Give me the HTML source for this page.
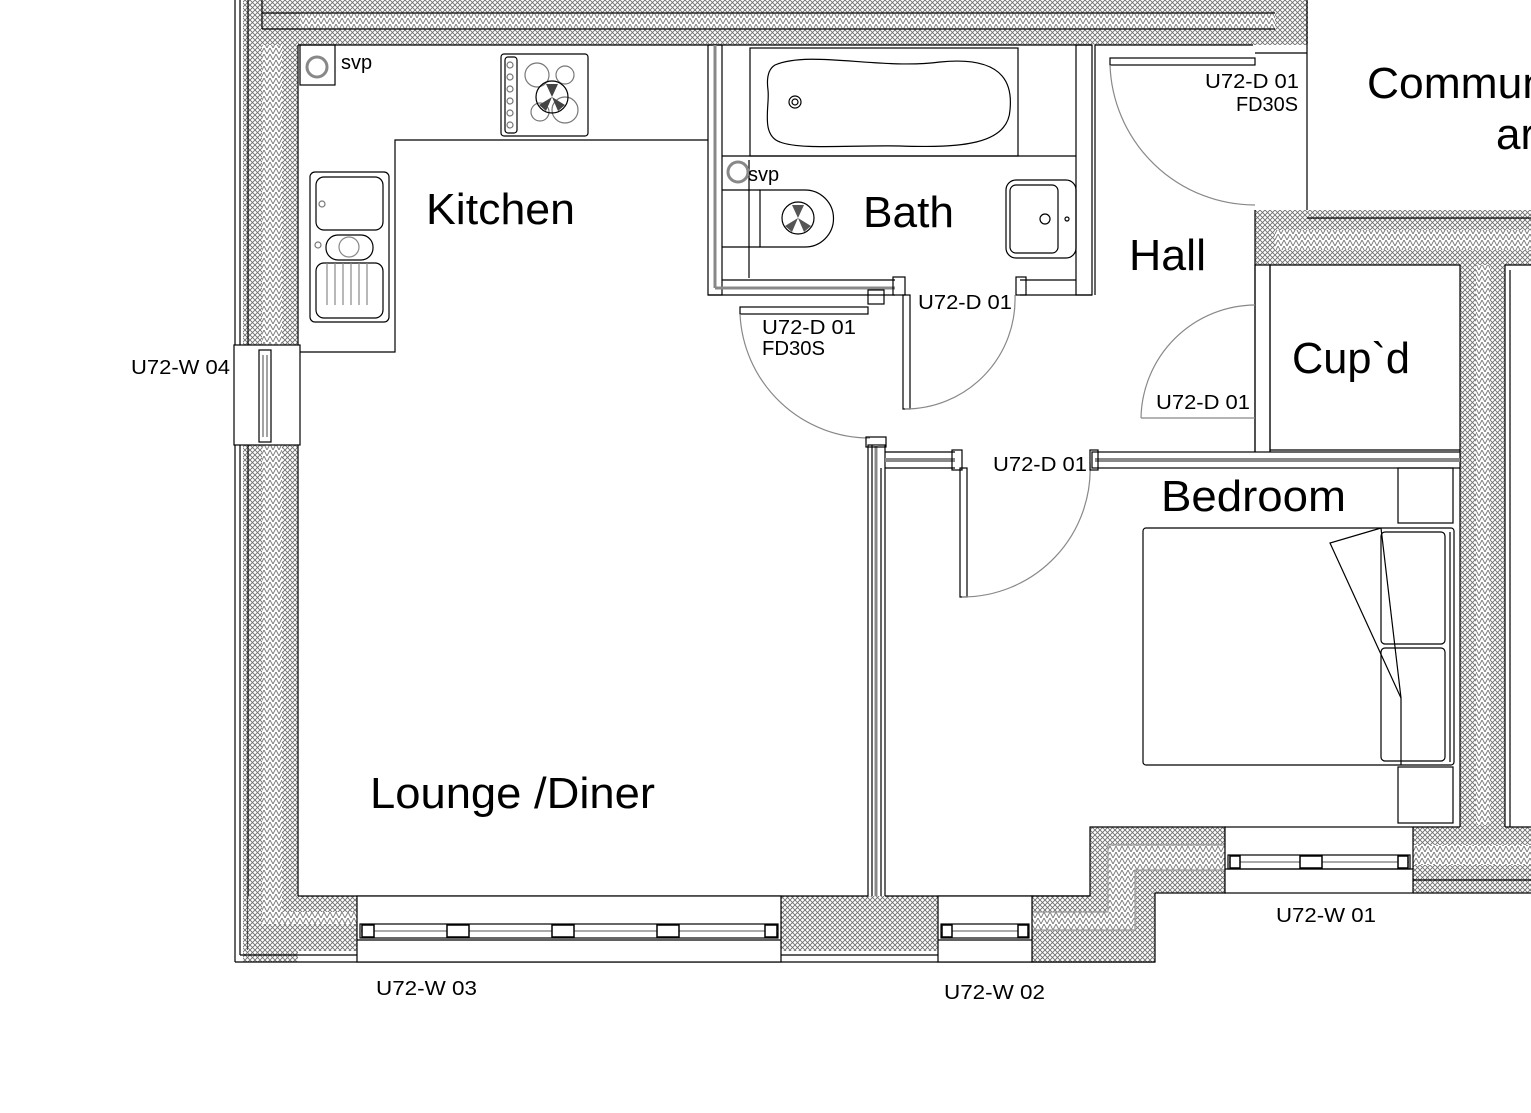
<!DOCTYPE html>
<html><head><meta charset="utf-8"><style>
html,body{margin:0;padding:0;background:#fff;width:1531px;height:1113px;overflow:hidden}
svg{display:block}
text{font-family:"Liberation Sans",sans-serif;fill:#000}
</style></head><body>
<svg width="1531" height="1113" viewBox="0 0 1531 1113" xmlns="http://www.w3.org/2000/svg">
<defs>
<pattern id="h" width="5" height="5" patternUnits="userSpaceOnUse">
<rect width="5" height="5" fill="#fff"/>
<path d="M0 0L5 5M5 0L0 5" stroke="#6f6f6f" stroke-width="0.9"/>
</pattern>
<pattern id="z" width="6" height="6" patternUnits="userSpaceOnUse">
<rect width="6" height="6" fill="#fff"/>
<path d="M0 0L3 6L6 0" stroke="#777" stroke-width="0.9" fill="none"/>
</pattern>
</defs>
<g stroke="#000" stroke-width="1.2" fill="none">
<!-- Left wall -->
<rect x="243" y="0" width="55" height="345" fill="url(#h)" stroke="none"/>
<rect x="243" y="445" width="55" height="517" fill="url(#h)" stroke="none"/>
<rect x="262" y="0" width="20" height="345" fill="url(#z)" stroke="none"/>
<rect x="262" y="445" width="20" height="440" fill="url(#z)" stroke="none"/>
<line x1="235" y1="0" x2="235" y2="345"/><line x1="240" y1="0" x2="240" y2="345"/><line x1="248" y1="0" x2="248" y2="345"/>
<line x1="235" y1="445" x2="235" y2="962"/><line x1="240" y1="445" x2="240" y2="955"/><line x1="248" y1="445" x2="248" y2="950"/>
<line x1="298" y1="45" x2="298" y2="896"/>
<!-- W04 -->
<rect x="234" y="345" width="66" height="100" fill="#fff"/>
<rect x="259" y="350" width="12" height="92" fill="#fff"/>
<line x1="263" y1="355" x2="263" y2="437" stroke="#666"/><line x1="267" y1="355" x2="267" y2="437" stroke="#666"/>
<!-- Top wall -->
<rect x="262" y="0" width="1046" height="45" fill="url(#h)" stroke="none"/>
<rect x="300" y="13" width="975" height="16" fill="url(#z)" stroke="none"/>
<line x1="262" y1="13" x2="1275" y2="13"/><line x1="262" y1="29" x2="1275" y2="29"/>
<line x1="298" y1="45" x2="1092" y2="45"/><line x1="1095" y1="45" x2="1253" y2="45"/>
<line x1="262" y1="0" x2="262" y2="29"/>
<line x1="1307" y1="0" x2="1307" y2="53"/>
<line x1="1307" y1="53" x2="1307" y2="210"/>
<line x1="1255" y1="53" x2="1307" y2="53"/>
<rect x="1110" y="58" width="145" height="7" fill="#fff"/>
<path d="M1110 65 A145 145 0 0 0 1255 205" stroke="#888"/>
<line x1="1095" y1="45" x2="1095" y2="295"/>
<!-- right upper walls -->
<rect x="1255" y="210" width="276" height="55" fill="url(#h)" stroke="none"/>
<rect x="1275" y="230" width="256" height="20" fill="url(#z)" stroke="none"/>
<line x1="1307" y1="218" x2="1531" y2="218"/>
<line x1="1270" y1="265" x2="1460" y2="265"/>
<line x1="1505" y1="265" x2="1531" y2="265"/>
<rect x="1460" y="265" width="45" height="562" fill="url(#h)" stroke="none"/>
<rect x="1476" y="265" width="14" height="560" fill="url(#z)" stroke="none"/>
<line x1="1460" y1="265" x2="1460" y2="827"/><line x1="1505" y1="265" x2="1505" y2="827"/>
<line x1="1510" y1="270" x2="1510" y2="827"/>
<!-- cupboard walls -->
<rect x="1255" y="265" width="15" height="190" fill="#fff"/>
<line x1="1255" y1="210" x2="1255" y2="455"/>
<line x1="1270" y1="265" x2="1270" y2="455"/>
<line x1="1270" y1="450" x2="1460" y2="450"/>
<path d="M1255 305 A115 115 0 0 0 1141 418" stroke="#888"/>
<line x1="1141" y1="418" x2="1255" y2="418" stroke="#888"/>
<rect x="1092" y="452" width="368" height="16" fill="#fff"/>
<line x1="1095" y1="460" x2="1460" y2="460" stroke="#888" stroke-width="4"/>
<!-- Bathroom walls -->
<rect x="708" y="45" width="14" height="250"/>
<line x1="715" y1="45" x2="715" y2="288" stroke="#888" stroke-width="3"/>
<line x1="708" y1="295" x2="895" y2="295"/><line x1="722" y1="280" x2="895" y2="280"/>
<line x1="715" y1="288" x2="895" y2="288" stroke="#888" stroke-width="3"/>
<rect x="1076" y="45" width="16" height="250"/>
<line x1="1020" y1="280" x2="1076" y2="280"/><line x1="1020" y1="295" x2="1092" y2="295"/>
<rect x="893" y="277" width="12" height="18"/><rect x="1016" y="277" width="10" height="18"/>
<rect x="903" y="295" width="7" height="114"/>
<path d="M1015 295 A110 110 0 0 1 905 409" stroke="#888"/>
<rect x="868" y="290" width="16" height="14"/>
<rect x="740" y="307" width="128" height="7"/>
<path d="M740 314 A130 130 0 0 0 870 438" stroke="#888"/>
<!-- Bath fixtures -->
<rect x="750" y="48" width="268" height="108"/>
<line x1="722" y1="156" x2="1076" y2="156"/>
<path d="M775 65 C810 50,880 70,940 62 C1010 55,1012 90,1010 110 C1008 145,960 148,900 146 C850 145,800 150,780 142 C760 135,770 105,768 90 C766 75,770 68,775 65Z"/>
<circle cx="795" cy="102" r="6"/><circle cx="795" cy="102" r="3"/>
<line x1="722" y1="190" x2="760" y2="190"/><line x1="722" y1="247" x2="760" y2="247"/>
<line x1="749" y1="160" x2="749" y2="278"/>
<path d="M760 190 L805 190 A28 28 0 0 1 805 247 L760 247Z"/>
<circle cx="798" cy="218" r="16"/>
<path d="M798 218 L792 205 L804 205Z M798 218 L785 226 L792 232Z M798 218 L811 226 L804 232Z" fill="#555" stroke="none"/>
<circle cx="738" cy="172" r="10" stroke="#888" stroke-width="3"/>
<rect x="1006" y="180" width="70" height="78" rx="10"/>
<rect x="1010" y="185" width="48" height="68" rx="6"/>
<circle cx="1045" cy="219" r="5"/><circle cx="1067" cy="219" r="2"/>
<!-- Kitchen -->
<path d="M300 352 L395 352 L395 140 L708 140"/>
<rect x="300" y="45" width="35" height="40"/>
<circle cx="317" cy="67" r="10" stroke="#888" stroke-width="3"/>
<rect x="501" y="54" width="87" height="82" rx="3"/>
<rect x="505" y="57" width="12" height="76" rx="3"/>
<g stroke="#777"><circle cx="510" cy="65" r="3"/><circle cx="510" cy="77" r="3"/><circle cx="510" cy="89" r="3"/><circle cx="510" cy="101" r="3"/><circle cx="510" cy="113" r="3"/><circle cx="510" cy="125" r="3"/>
<circle cx="537" cy="75" r="12"/><circle cx="565" cy="75" r="9"/><circle cx="540" cy="112" r="9"/><circle cx="565" cy="110" r="13"/></g>
<circle cx="552" cy="97" r="16"/>
<path d="M552 97 L546 84 L558 84Z M552 97 L539 105 L546 111Z M552 97 L565 105 L558 111Z" fill="#444" stroke="none"/>
<rect x="310" y="172" width="79" height="150" rx="5"/>
<rect x="316" y="177" width="67" height="53" rx="8"/>
<rect x="326" y="235" width="47" height="25" rx="12"/>
<circle cx="349" cy="247" r="10" stroke="#888"/>
<circle cx="322" cy="204" r="3" stroke="#777"/><circle cx="318" cy="245" r="3" stroke="#777"/>
<rect x="316" y="263" width="67" height="55" rx="8"/>
<g stroke="#888"><line x1="327" y1="263" x2="327" y2="305"/><line x1="335" y1="263" x2="335" y2="305"/><line x1="343" y1="263" x2="343" y2="305"/><line x1="351" y1="263" x2="351" y2="305"/><line x1="359" y1="263" x2="359" y2="305"/><line x1="367" y1="263" x2="367" y2="305"/></g>
<!-- Lounge/bedroom partition -->
<rect x="868" y="445" width="17" height="452" fill="#fff"/>
<line x1="876" y1="445" x2="876" y2="897" stroke="#888" stroke-width="3"/>
<line x1="872" y1="445" x2="872" y2="897"/><line x1="881" y1="468" x2="881" y2="897"/>
<rect x="866" y="437" width="20" height="10"/>
<line x1="885" y1="452" x2="955" y2="452"/><line x1="885" y1="468" x2="955" y2="468"/>
<line x1="885" y1="460" x2="955" y2="460" stroke="#888" stroke-width="4"/>
<rect x="952" y="450" width="10" height="20"/>
<rect x="960" y="468" width="7" height="129"/>
<path d="M1090 462 A128 128 0 0 1 962 597" stroke="#888"/>
<rect x="1090" y="450" width="8" height="20"/>
<!-- Bedroom furniture -->
<rect x="1398" y="468" width="55" height="55"/>
<rect x="1398" y="767" width="55" height="56"/>
<rect x="1143" y="528" width="311" height="237" rx="3"/>
<rect x="1381" y="532" width="64" height="112" rx="4"/>
<rect x="1381" y="648" width="64" height="113" rx="4"/>
<line x1="1450" y1="532" x2="1450" y2="762"/>
<path d="M1381 528 L1330 543 L1401 698 L1401 765"/><line x1="1381" y1="528" x2="1401" y2="698"/>
<!-- Bottom wall -->
<rect x="248" y="896" width="907" height="55" fill="url(#h)" stroke="none"/>
<rect x="262" y="885" width="20" height="30" fill="url(#z)" stroke="none"/>
<rect x="262" y="912" width="95" height="12" fill="url(#z)" stroke="none"/>
<line x1="298" y1="896" x2="868" y2="896"/><line x1="885" y1="896" x2="1090" y2="896"/>
<line x1="240" y1="955" x2="1155" y2="955"/><line x1="235" y1="962" x2="1155" y2="962"/>
<path d="M1090 827 L1225 827 L1225 893 L1155 893 L1155 962 L1032 962 L1032 896 L1090 896Z" fill="url(#h)"/>
<path d="M1108 845 L1225 845 L1225 870 L1135 870 L1135 930 L1032 930 L1032 912 L1108 912Z" fill="url(#z)" stroke="#999"/>
<rect x="1413" y="827" width="118" height="66" fill="url(#h)" stroke="none"/>
<rect x="1413" y="845" width="118" height="20" fill="url(#z)" stroke="none"/>
<line x1="1413" y1="827" x2="1460" y2="827"/><line x1="1505" y1="827" x2="1531" y2="827"/>
<line x1="1413" y1="893" x2="1531" y2="893"/><line x1="1413" y1="880" x2="1531" y2="880"/>
<!-- windows -->
<rect x="357" y="896" width="424" height="66" fill="#fff"/>
<rect x="360" y="924" width="418" height="14" fill="#fff"/>
<line x1="360" y1="931" x2="778" y2="931" stroke="#777"/>
<line x1="357" y1="940" x2="781" y2="940"/>
<rect x="938" y="896" width="94" height="66" fill="#fff"/>
<rect x="941" y="924" width="88" height="14" fill="#fff"/>
<line x1="941" y1="931" x2="1029" y2="931" stroke="#777"/>
<line x1="938" y1="940" x2="1032" y2="940"/>
<rect x="1225" y="827" width="188" height="66" fill="#fff"/>
<rect x="1228" y="855" width="182" height="14" fill="#fff"/>
<line x1="1228" y1="862" x2="1410" y2="862" stroke="#777"/>
<line x1="1225" y1="869" x2="1413" y2="869"/>
<g fill="#fff" stroke-width="1.5">
<rect x="362" y="925" width="12" height="12"/><rect x="447" y="925" width="22" height="12"/><rect x="552" y="925" width="22" height="12"/><rect x="657" y="925" width="22" height="12"/><rect x="765" y="925" width="12" height="12"/>
<rect x="942" y="925" width="10" height="12"/><rect x="1018" y="925" width="10" height="12"/>
<rect x="1230" y="856" width="10" height="12"/><rect x="1300" y="856" width="22" height="12"/><rect x="1398" y="856" width="10" height="12"/>
</g>
</g>
<!-- labels -->
<g font-size="44">
<text x="426" y="224" textLength="149" lengthAdjust="spacingAndGlyphs">Kitchen</text>
<text x="863" y="227" textLength="91" lengthAdjust="spacingAndGlyphs">Bath</text>
<text x="1129" y="270" textLength="77" lengthAdjust="spacingAndGlyphs">Hall</text>
<text x="1292" y="373" textLength="118" lengthAdjust="spacingAndGlyphs">Cup`d</text>
<text x="1161" y="511" textLength="185" lengthAdjust="spacingAndGlyphs">Bedroom</text>
<text x="370" y="808" textLength="285" lengthAdjust="spacingAndGlyphs">Lounge /Diner</text>
<text x="1367" y="98" textLength="180" lengthAdjust="spacingAndGlyphs">Commun</text>
<text x="1496" y="149">ar</text>
</g>
<g font-size="20">
<text x="341" y="69">svp</text>
<text x="748" y="181">svp</text>
<text x="1205" y="88" textLength="94" lengthAdjust="spacingAndGlyphs">U72-D 01</text>
<text x="1236" y="111" textLength="62" lengthAdjust="spacingAndGlyphs">FD30S</text>
<text x="918" y="309" textLength="94" lengthAdjust="spacingAndGlyphs">U72-D 01</text>
<text x="762" y="334" textLength="94" lengthAdjust="spacingAndGlyphs">U72-D 01</text>
<text x="762" y="355" textLength="63" lengthAdjust="spacingAndGlyphs">FD30S</text>
<text x="1156" y="409" textLength="94" lengthAdjust="spacingAndGlyphs">U72-D 01</text>
<text x="993" y="471" textLength="94" lengthAdjust="spacingAndGlyphs">U72-D 01</text>
<text x="131" y="374" textLength="99" lengthAdjust="spacingAndGlyphs">U72-W 04</text>
<text x="376" y="995" textLength="101" lengthAdjust="spacingAndGlyphs">U72-W 03</text>
<text x="944" y="999" textLength="101" lengthAdjust="spacingAndGlyphs">U72-W 02</text>
<text x="1276" y="922" textLength="100" lengthAdjust="spacingAndGlyphs">U72-W 01</text>
</g>
</svg>
</body></html>
